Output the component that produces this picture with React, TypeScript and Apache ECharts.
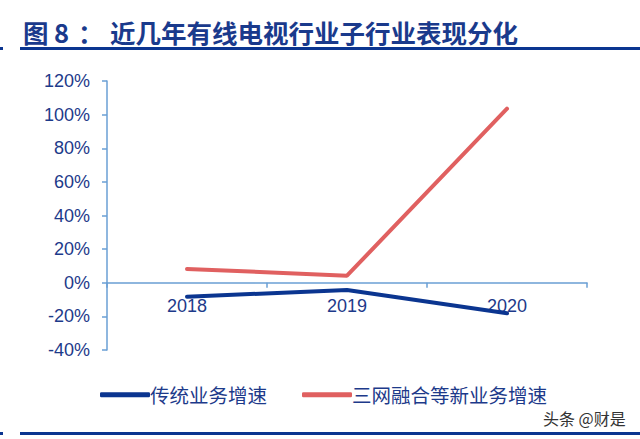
import React, { useEffect, useRef } from "react";
import * as echarts from "echarts";

const categories = ["2018", "2019", "2020"];
const traditional = [-8.3, -4.3, -18.2];
const newBusiness = [8.2, 4.2, 103.5];
const seriesNames = ["传统业务增速", "三网融合等新业务增速"];
const titleParts = ["图", "8", "：", "近几年有线电视行业子行业表现分化"];
const watermark = "头条 @财是";

const BLUE = "#0b3590";
const RED = "#e06060";
const AXIS = "#6a9fd4";
const LABEL = "#1d3a8a";
const TITLE = "#1a3a8c";

export default function App() {
  const ref = useRef<HTMLDivElement>(null);
  useEffect(() => {
    const chart = echarts.init(ref.current!, null, { renderer: "svg" });
    const titleFont = "bold 25.5px 'Noto Sans CJK SC', sans-serif";
    const titleX = [23, 54, 78, 110];
    chart.setOption({
      animation: false,
      backgroundColor: "#fff",
      grid: { left: 107, right: 53, top: 81, bottom: 89 },
      xAxis: {
        type: "category",
        data: categories,
        boundaryGap: true,
        offset: -67.25,
        axisLine: { onZero: false, lineStyle: { color: AXIS, width: 1.5 } },
        axisTick: { show: true, length: 5, inside: false, lineStyle: { color: AXIS, width: 1.5 } },
        axisLabel: {
          color: LABEL,
          fontSize: 18,
          fontFamily: "Liberation Sans, Arial, sans-serif",
          margin: 14,
        },
        splitLine: { show: false },
      },
      yAxis: {
        type: "value",
        min: -40,
        max: 120,
        interval: 20,
        axisLine: { show: true, lineStyle: { color: AXIS, width: 1.5 } },
        axisTick: { show: true, length: 5, lineStyle: { color: AXIS, width: 1.5 } },
        axisLabel: {
          color: LABEL,
          fontSize: 18,
          fontFamily: "Liberation Sans, Arial, sans-serif",
          margin: 17,
          formatter: "{value}%",
        },
        splitLine: { show: false },
      },
      legend: {
        top: 380,
        left: 95,
        itemGap: 35,
        itemWidth: 50,
        itemHeight: 5,
        icon: "roundRect",
        textStyle: {
          color: LABEL,
          fontSize: 19.5,
          fontFamily: "Noto Sans CJK SC, sans-serif",
          padding: [0, 0, 0, -5],
        },
        data: seriesNames,
      },
      series: [
        {
          name: seriesNames[0],
          type: "line",
          data: traditional,
          symbol: "none",
          color: BLUE,
          lineStyle: { color: BLUE, width: 4, cap: "round" },
        },
        {
          name: seriesNames[1],
          type: "line",
          data: newBusiness,
          symbol: "none",
          color: RED,
          lineStyle: { color: RED, width: 4, cap: "round" },
        },
      ],
      graphic: [
        ...titleParts.map((t, i) => ({
          type: "text",
          x: titleX[i],
          y: 31,
          style: {
            text: t,
            fill: TITLE,
            font: titleFont,
            textVerticalAlign: "middle",
          },
        })),
        { type: "rect", shape: { x: 20, y: 47, width: 620, height: 3 }, style: { fill: BLUE } },
        { type: "rect", shape: { x: 0, y: 47, width: 3, height: 3 }, style: { fill: BLUE } },
        { type: "rect", shape: { x: 20, y: 432, width: 620, height: 3 }, style: { fill: BLUE } },
        { type: "rect", shape: { x: 0, y: 432, width: 3, height: 3 }, style: { fill: BLUE } },
        {
          type: "text",
          x: 543,
          y: 418,
          style: {
            text: watermark,
            fill: "#333",
            font: "16px 'Noto Sans CJK SC', sans-serif",
            textVerticalAlign: "middle",
          },
        },
      ],
    });
    return () => chart.dispose();
  }, []);
  return <div ref={ref} style={{ width: 640, height: 439, position: "absolute", left: 0, top: 0 }} />;
}
